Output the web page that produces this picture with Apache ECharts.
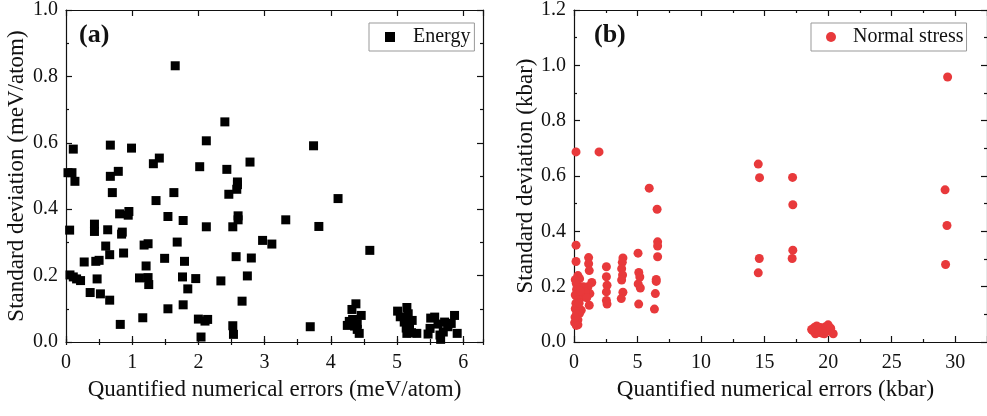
<!DOCTYPE html>
<html><head><meta charset="utf-8">
<script src="https://cdn.jsdelivr.net/npm/echarts@6/dist/echarts.min.js"></script>
<style>html,body{margin:0;padding:0;background:#fff}#c{width:987px;height:416px}</style>
</head><body><div id="c"></div>
<script>
// ---- Data ----
const energyLabel = 'Energy';
const stressLabel = 'Normal stress';
const xTitleA = 'Quantified numerical errors (meV/atom)';
const yTitleA = 'Standard deviation (meV/atom)';
const xTitleB = 'Quantified numerical errors (kbar)';
const yTitleB = 'Standard deviation (kbar)';
const energyPoints = [
 [1.65,0.832],[2.40,0.663],[2.12,0.606],[0.11,0.581],[0.67,0.593],[0.99,0.584],[2.78,0.542],[1.32,0.537],
 [1.41,0.554],[2.02,0.528],[2.43,0.520],[0.03,0.510],[0.09,0.510],[0.67,0.499],[0.79,0.514],[0.135,0.484],
 [2.59,0.482],[3.74,0.591],[0.70,0.450],[1.36,0.426],[1.63,0.450],[2.46,0.445],[2.58,0.460],[2.59,0.474],
 [0.81,0.386],[0.95,0.393],[0.94,0.382],[1.54,0.378],[1.77,0.366],[2.12,0.347],[2.52,0.347],[2.60,0.380],
 [2.60,0.368],[0.43,0.355],[0.43,0.333],[0.055,0.337],[0.63,0.338],[0.85,0.331],[0.84,0.325],[0.60,0.289],
 [1.18,0.292],[1.24,0.296],[1.68,0.301],[2.97,0.306],[3.11,0.295],[0.66,0.263],[0.87,0.268],[2.57,0.257],
 [2.80,0.253],[0.275,0.241],[0.45,0.243],[0.50,0.246],[1.49,0.252],[1.79,0.243],[1.21,0.229],[0.06,0.202],
 [0.11,0.196],[0.16,0.190],[0.22,0.185],[0.47,0.190],[1.11,0.193],[1.24,0.194],[1.25,0.173],[1.76,0.196],
 [1.96,0.191],[2.34,0.184],[2.74,0.199],[1.84,0.160],[0.365,0.149],[0.52,0.145],[0.66,0.126],[2.66,0.123],
 [1.54,0.100],[1.77,0.112],[1.16,0.073],[0.82,0.053],[2.00,0.069],[2.10,0.063],[2.14,0.068],[2.52,0.049],
 [2.53,0.023],[2.04,0.015],[3.32,0.368],[3.82,0.348],[4.11,0.432],[4.59,0.276],[3.69,0.046],
 [4.38,0.115],[4.32,0.098],[4.46,0.080],[4.28,0.062],[4.33,0.068],[4.25,0.050],[4.36,0.048],[4.40,0.038],
 [4.43,0.026],[4.40,0.055],
 [5.01,0.093],[5.15,0.104],[5.05,0.076],[5.17,0.085],[5.11,0.060],[5.23,0.065],[5.14,0.042],[5.19,0.047],
 [5.22,0.028],[5.30,0.026],[5.15,0.026],
 [5.51,0.072],[5.57,0.075],[5.62,0.054],[5.50,0.041],[5.47,0.024],[5.65,0.021],[5.66,0.008],[5.77,0.056],
 [5.72,0.060],[5.87,0.080],[5.82,0.056],[5.91,0.026],[5.77,0.046],[5.70,0.030]
];
const stressPoints = [
 [0.16,0.687],[1.97,0.687],[14.5,0.643],[14.6,0.594],[29.4,0.958],[17.2,0.595],[17.22,0.496],[17.22,0.332],
 [17.17,0.302],[29.2,0.550],[29.35,0.421],[29.24,0.280],[14.58,0.302],[14.50,0.250],
 [5.92,0.556],[6.54,0.480],[6.58,0.362],[6.58,0.347],[6.58,0.308],[6.47,0.226],[6.47,0.219],[6.40,0.175],[6.33,0.119],
 [5.04,0.321],[5.10,0.251],[5.18,0.235],[5.05,0.210],[5.22,0.195],[5.09,0.137],
 [3.85,0.304],[3.80,0.288],[3.75,0.265],[3.82,0.242],[3.75,0.224],[3.85,0.180],[3.72,0.157],
 [2.55,0.272],[2.55,0.236],[2.60,0.205],[2.55,0.181],[2.55,0.150],[2.60,0.137],
 [1.15,0.305],[1.15,0.283],[1.20,0.258],[1.40,0.215],[1.10,0.200],[1.25,0.175],[1.20,0.133],
 [0.16,0.350],[0.16,0.291],[0.31,0.240],[0.44,0.229],[0.10,0.225],[0.18,0.211],[0.57,0.199],[0.75,0.200],
 [0.20,0.190],[0.31,0.175],[0.70,0.163],[0.10,0.170],[0.31,0.151],[0.15,0.140],[0.18,0.115],[0.57,0.115],
 [0.44,0.104],[0.10,0.120],[0.20,0.100],[0.31,0.080],[0.31,0.062],[0.18,0.060],[0.05,0.070],[0.08,0.090],
 [0.9,0.180],[1.0,0.160],[0.5,0.185],[0.4,0.140],
 [18.8,0.040],[18.9,0.052],[19.0,0.030],[19.2,0.045],[19.4,0.052],[19.5,0.032],[19.6,0.042],[19.8,0.055],
 [19.9,0.045],[20.0,0.062],[20.1,0.040],[20.2,0.050],[20.4,0.030],[19.1,0.058],[18.7,0.045],[19.3,0.035],[19.7,0.030]
];
const panelLabels = ['(a)', '(b)'];

// ---- Chart ----
const FONT = '"Liberation Serif","Times New Roman",serif';
const INK = '#111';
const chart = echarts.init(document.getElementById('c'), null, {renderer: 'canvas'});
const lineStyle = {color: INK, width: 1.2};
function ax(base) {
  return Object.assign({
    type: 'value', splitLine: {show: false},
    axisLine: {show: true, onZero: false, lineStyle: lineStyle},
    axisTick: {show: true, inside: true, length: 6, lineStyle: lineStyle},
    axisLabel: {show: false, color: INK, fontFamily: FONT, fontSize: 20},
  }, base);
}
const yMinor = {show: true, splitNumber: 2, length: 3, lineStyle: lineStyle};
const fmt1 = v => v.toFixed(1);
const option = {
  animation: false,
  backgroundColor: '#fff',
  grid: [
    {left: 66, top: 6, width: 417, height: 336},
    {left: 574, top: 6, width: 418, height: 336}
  ],
  xAxis: [
    ax({gridIndex: 0, position: 'bottom', min: 0, max: 6.3, interval: 1,
        axisLabel: {show: true, color: INK, fontFamily: FONT, fontSize: 20, margin: 11, showMaxLabel: false},
        name: xTitleA, nameLocation: 'middle', nameGap: 36,
        nameTextStyle: {color: INK, fontFamily: FONT, fontSize: 23}}),
    ax({gridIndex: 0, position: 'bottom', min: 0, max: 6.3, interval: 0.5, axisLine: {show: false},
        axisTick: {show: true, inside: true, length: 3, lineStyle: lineStyle}}),
    ax({gridIndex: 0, position: 'top', min: 0, max: 6.3, interval: 1}),
    ax({gridIndex: 0, position: 'top', min: 0, max: 6.3, interval: 0.5, axisLine: {show: false},
        axisTick: {show: true, inside: true, length: 3, lineStyle: lineStyle}}),
    ax({gridIndex: 1, position: 'bottom', min: 0, max: 32.5, interval: 5, minorTick: yMinor,
        axisLabel: {show: true, color: INK, fontFamily: FONT, fontSize: 20, margin: 11, showMaxLabel: false},
        name: xTitleB, nameLocation: 'middle', nameGap: 36,
        nameTextStyle: {color: INK, fontFamily: FONT, fontSize: 23, padding: [0, 10, 0, 0]}}),
    ax({gridIndex: 1, position: 'top', min: 0, max: 32.5, interval: 5, minorTick: yMinor})
  ],
  yAxis: [
    ax({gridIndex: 0, position: 'left', min: 0, max: 1, interval: 0.2, minorTick: yMinor,
        axisLabel: {show: true, color: INK, fontFamily: FONT, fontSize: 20, margin: 8, formatter: fmt1},
        name: yTitleA, nameLocation: 'middle', nameGap: 38,
        nameTextStyle: {color: INK, fontFamily: FONT, fontSize: 23}}),
    ax({gridIndex: 0, position: 'right', min: 0, max: 1, interval: 0.2, minorTick: yMinor}),
    ax({gridIndex: 1, position: 'left', min: 0, max: 1.2, interval: 0.2, minorTick: yMinor,
        axisLabel: {show: true, color: INK, fontFamily: FONT, fontSize: 20, margin: 8, formatter: fmt1},
        name: yTitleB, nameLocation: 'middle', nameGap: 36,
        nameTextStyle: {color: INK, fontFamily: FONT, fontSize: 23}}),
    ax({gridIndex: 1, position: 'right', min: 0, max: 1.2, interval: 0.2, minorTick: yMinor})
  ],
  legend: [
    {data: [{name: energyLabel, icon: 'path://M0,0L10,0L10,10L0,10Z'}], left: 369, top: 23,
     orient: 'vertical', itemWidth: 10, itemHeight: 10, padding: [4, 4, 4, 16],
     borderColor: '#999', borderWidth: 1, borderRadius: 0,
     textStyle: {color: INK, fontFamily: FONT, fontSize: 20, padding: [0, 0, 0, 13]}},
    {data: [{name: stressLabel, icon: 'circle'}], left: 811, top: 23,
     orient: 'vertical', itemWidth: 10, itemHeight: 10, padding: [4, 3, 4, 15],
     borderColor: '#999', borderWidth: 1, borderRadius: 0,
     textStyle: {color: INK, fontFamily: FONT, fontSize: 20, padding: [0, 0, 0, 12]}}
  ],
  graphic: [
    {type: 'text', left: 79, top: 22, style: {text: panelLabels[0], font: 'bold 26px ' + FONT, fill: INK}},
    {type: 'text', left: 594, top: 22, style: {text: panelLabels[1], font: 'bold 26px ' + FONT, fill: INK}}
  ],
  series: [
    {type: 'scatter', name: energyLabel, xAxisIndex: 0, yAxisIndex: 0, data: energyPoints,
     symbol: 'rect', symbolSize: 9, itemStyle: {color: '#000', opacity: 1}},
    {type: 'scatter', name: stressLabel, xAxisIndex: 4, yAxisIndex: 2, data: stressPoints,
     symbol: 'circle', symbolSize: 9, itemStyle: {color: '#e8393b', opacity: 1}}
  ]
};
chart.setOption(option);
</script></body></html>
